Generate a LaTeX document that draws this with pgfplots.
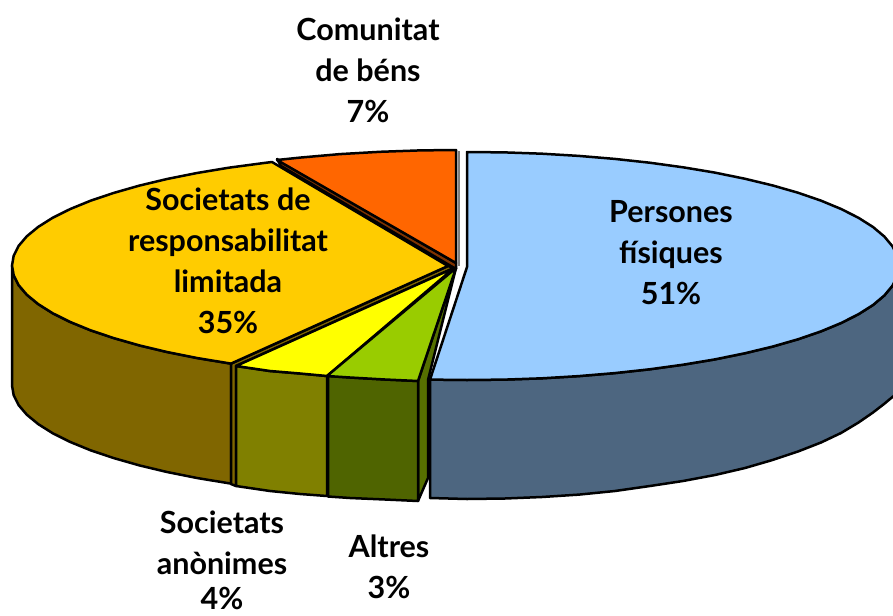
\documentclass[border=0pt]{standalone}
\usepackage{pgfplots}
\pgfplotsset{compat=1.18}
\usepackage{fontspec}
\setmainfont{Lato}
\definecolor{cP}{HTML}{99CCFF}\definecolor{cPw}{HTML}{4D6680}
\definecolor{cO}{HTML}{FF6600}\definecolor{cOw}{HTML}{803300}
\definecolor{cG}{HTML}{FFCC00}\definecolor{cGw}{HTML}{806600}
\definecolor{cY}{HTML}{FFFF00}\definecolor{cYw}{HTML}{808000}
\definecolor{cA}{HTML}{99CC00}\definecolor{cAw}{HTML}{4F6400}\definecolor{cAs}{HTML}{567000}
\tikzset{lab/.style={align=center,font=\fontsize{30.5}{41}\selectfont\bfseries,text=black}}
\begin{document}
\begin{tikzpicture}
\path[use as bounding box] (0,0) rectangle (893pt,615pt);
\begin{axis}[at={(0,0)},anchor=south west,width=893pt,height=615pt,scale only axis,
  xmin=0,xmax=893,ymin=0,ymax=615,y dir=reverse,hide axis,
  every axis plot/.append style={line width=2.5pt,line join=round,mark=none}]
% inner wall of Altres
\addplot[draw=black,fill=cAs] coordinates {(456,268)(418,381)(418,501)(428,478)(428,380)} -- cycle;
% Persones wall
\addplot[draw=black,fill=cPw] coordinates {(899,266)(897.4,275.9)(892.4,285.8)(884.3,295.5)(873,305)(858.5,314.2)(841.1,323)(820.9,331.4)(797.9,339.3)(772.5,346.6)(744.7,353.3)(714.8,359.4)(683,364.7)(649.6,369.3)(614.7,373.1)(578.8,376.1)(542,378.3)(504.7,379.6)(467,380)(430,379.6)(430,498)(467,499)(505,498.5)(542,497)(579,494.6)(615,491)(650,486)(683,481)(715,475)(745,468)(772.5,460)(798,451.5)(821,442.5)(841,433)(858.5,422.5)(873,412.5)(884,404)(893,396.5)(899,391)} -- cycle;
% Persones top
\addplot[draw=black,fill=cP] coordinates {(467,152)(504.7,152.4)(542,153.7)(578.8,155.9)(614.7,158.9)(649.6,162.7)(683,167.3)(714.8,172.6)(744.7,178.7)(772.5,185.4)(797.9,192.7)(820.9,200.6)(841.1,209)(858.5,217.8)(873,227)(884.3,236.5)(892.4,246.2)(897.4,256.1)(899,266)(897.4,275.9)(892.4,285.8)(884.3,295.5)(873,305)(858.5,314.2)(841.1,323)(820.9,331.4)(797.9,339.3)(772.5,346.6)(744.7,353.3)(714.8,359.4)(683,364.7)(649.6,369.3)(614.7,373.1)(578.8,376.1)(542,378.3)(504.7,379.6)(467,380)(430,379.6)(467,267)} -- cycle;
% shadow of the gap
\addplot[draw=gray,line width=2pt] coordinates {(458.5,151)(458.5,266)};
% Comunitat strip and top
\addplot[draw=black,fill=cOw] coordinates {(277,159)(456,263)(456,269)(281,166)} -- cycle;
\addplot[draw=black,fill=cO] coordinates {(277,160)(300,157.6)(340,154.1)(380,151.8)(420,150.4)(456,150)(456,263)} -- cycle;
% Gold wall
\addplot[draw=black,fill=cGw] coordinates {(12,265.5)(13.7,275.3)(18.6,285.1)(26.8,294.7)(38.2,304.1)(52.8,313.3)(70.3,322)(90.6,330.3)(113.8,338.1)(139.4,345.4)(167.4,352.1)(197.5,358.1)(231,363.6)(231,483.6)(197.5,478.1)(167.4,472.1)(139.4,465.4)(113.8,458.1)(90.6,450.3)(70.3,442)(52.8,433.3)(38.2,424.1)(26.8,414.7)(18.6,405.1)(13.7,395.3)(12,385.5)} -- cycle;
\addplot[draw=black,fill=cGw] coordinates {(231,363.6)(448,266)(454,268)(236,366)(236,486)(231,484)} -- cycle;
% Gold top
\addplot[draw=black,fill=cG] coordinates {(272,162)(263.2,163.1)(229.5,167.6)(197.5,172.9)(167.4,178.9)(139.4,185.6)(113.8,192.9)(90.6,200.7)(70.3,209)(52.8,217.7)(38.2,226.9)(26.8,236.3)(18.6,245.9)(13.7,255.7)(12,265.5)(13.7,275.3)(18.6,285.1)(26.8,294.7)(38.2,304.1)(52.8,313.3)(70.3,322)(90.6,330.3)(113.8,338.1)(139.4,345.4)(167.4,352.1)(197.5,358.1)(231,363.6)(448,266)} -- cycle;
% Yellow
\addplot[draw=black,fill=cYw] coordinates {(236,366)(270,371)(300,373.5)(327,376)(327,496)(300,494)(270,491)(236,486)} -- cycle;
\addplot[draw=black,fill=cY] coordinates {(454,268)(236,366)(270,371)(300,373.5)(327,376)} -- cycle;
% Altres
\addplot[draw=black,fill=cAw] coordinates {(328,376)(350,377.5)(385,379.5)(418,381)(418,501)(385,499.5)(350,498)(328,496.5)} -- cycle;
\addplot[draw=black,fill=cA] coordinates {(456,268)(327,376)(350,377.5)(385,379.5)(418,381)} -- cycle;
% Labels
\node[lab] at (axis cs:368,70) {Comunitat\\de béns\\7\%};
\node[lab] at (axis cs:671,253) {Persones\\físiques\\51\%};
\node[lab] at (axis cs:228,261) {Societats de\\responsabilitat\\limitada\\35\%};
\node[lab] at (axis cs:222,560) {Societats\\anònimes\\[-6pt]4\%};
\node[lab] at (axis cs:389,567) {Altres\\3\%};
\end{axis}
\end{tikzpicture}
\end{document}
